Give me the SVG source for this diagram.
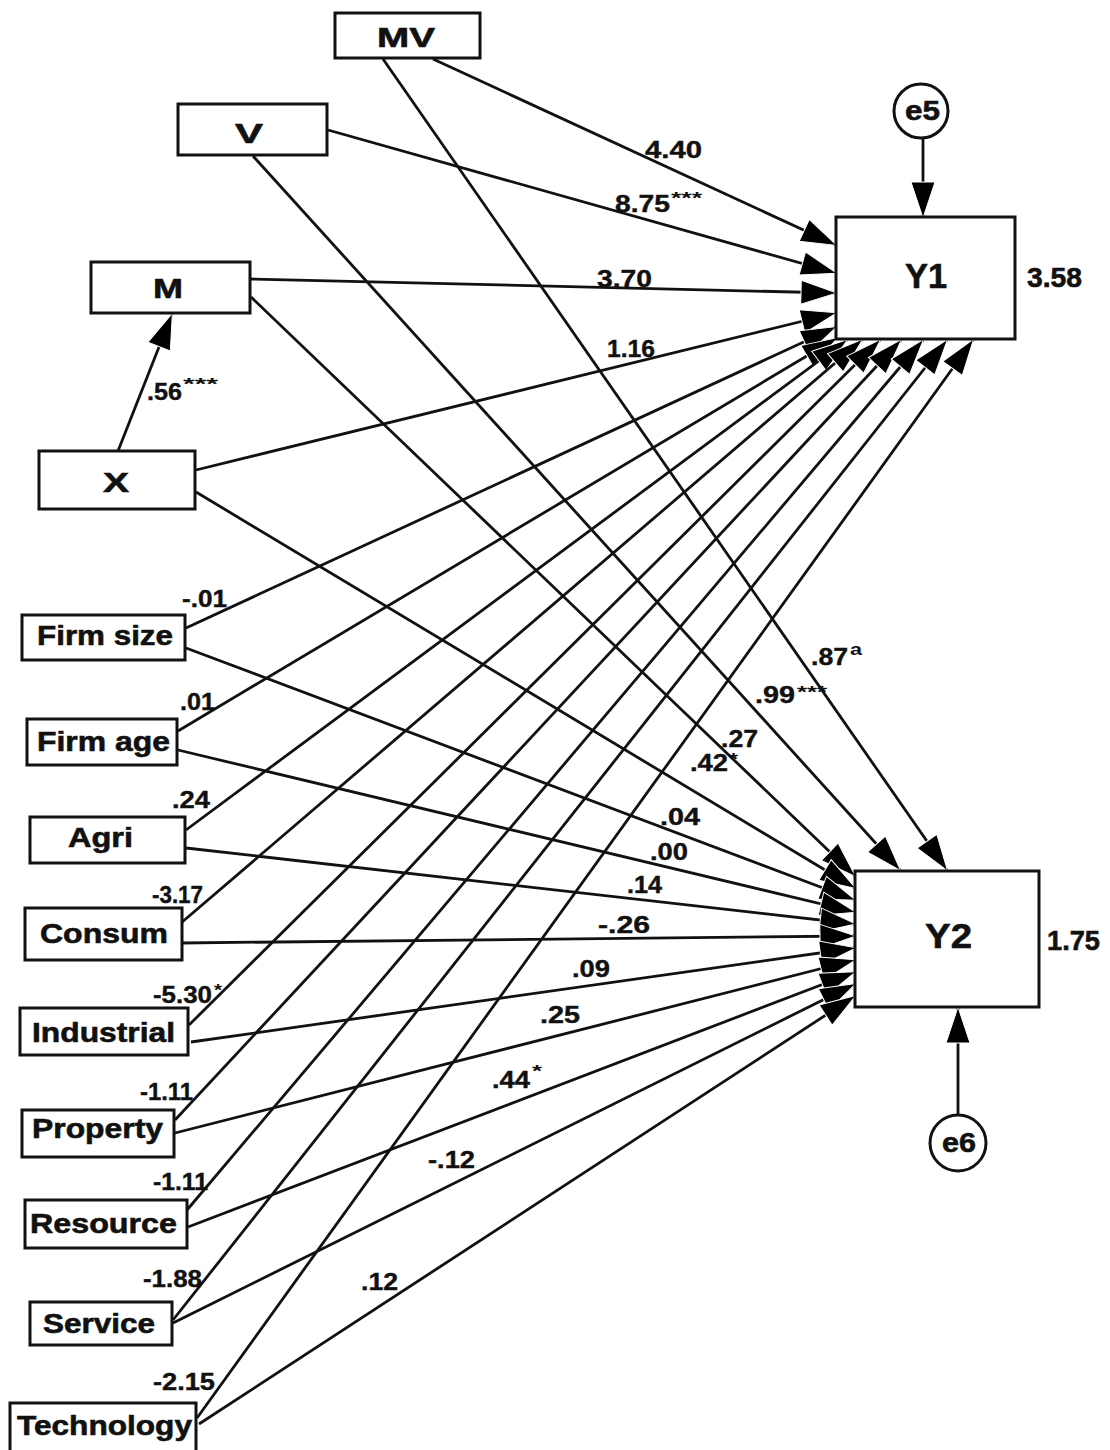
<svg xmlns="http://www.w3.org/2000/svg" width="1110" height="1450" viewBox="0 0 1110 1450">
  <style>
    .box { fill: #fff; stroke: #111; stroke-width: 3; }
    .err { fill: #fff; stroke: #111; stroke-width: 3; }
    .lbl { font-family: "Liberation Sans", Arial, sans-serif; font-weight: bold; font-size: 28px; fill: #111; stroke: #111; stroke-width: 0.6; }
    .big { font-size: 35px; }
    .coef { font-family: "Liberation Sans", Arial, sans-serif; font-weight: bold; font-size: 24px; fill: #111; stroke: #111; stroke-width: 0.4; }
    .sup { font-family: "Liberation Sans", Arial, sans-serif; font-weight: bold; font-size: 16px; fill: #111; }
    .link { fill: none; stroke: #111; stroke-width: 2.8; marker-end: url(#ah); }
  </style>
  <defs>
    <marker id="ah" markerUnits="userSpaceOnUse" viewBox="-2 -2 40 28" markerWidth="40" markerHeight="28" refX="35" refY="12" orient="auto">
      <path d="M0,0 L36,12 L0,24 Z" fill="#000" stroke="#fff" stroke-width="1"/>
    </marker>
  </defs>

  <!-- paths -->
  <g id="connectors">
    <!-- to Y1 -->
    <line class="link" x1="433" y1="59" x2="836" y2="245"/>
    <line class="link" x1="328" y1="130" x2="836" y2="273"/>
    <line class="link" x1="251" y1="279" x2="836" y2="293"/>
    <line class="link" x1="196" y1="470" x2="836" y2="313"/>
    <line class="link" x1="186" y1="628" x2="836" y2="327"/>
    <line class="link" x1="178" y1="731" x2="837" y2="338"/>
    <line class="link" x1="186" y1="830" x2="847" y2="340"/>
    <line class="link" x1="181" y1="923" x2="862" y2="340"/>
    <line class="link" x1="189" y1="1025" x2="880" y2="340"/>
    <line class="link" x1="175" y1="1120" x2="901" y2="340"/>
    <line class="link" x1="187" y1="1210" x2="923" y2="340"/>
    <line class="link" x1="173" y1="1320" x2="947" y2="340"/>
    <line class="link" x1="197" y1="1418" x2="973" y2="340"/>
    <!-- to Y2 -->
    <line class="link" x1="383" y1="59" x2="947" y2="870"/>
    <line class="link" x1="253" y1="156" x2="900" y2="870"/>
    <line class="link" x1="251" y1="297" x2="855" y2="876"/>
    <line class="link" x1="196" y1="492" x2="855" y2="888"/>
    <line class="link" x1="186" y1="648" x2="855" y2="900"/>
    <line class="link" x1="178" y1="750" x2="855" y2="912"/>
    <line class="link" x1="186" y1="848" x2="855" y2="924"/>
    <line class="link" x1="181" y1="943" x2="855" y2="936"/>
    <line class="link" x1="191" y1="1042" x2="855" y2="948"/>
    <line class="link" x1="175" y1="1133" x2="855" y2="960"/>
    <line class="link" x1="188" y1="1227" x2="855" y2="972"/>
    <line class="link" x1="173" y1="1323" x2="855" y2="984"/>
    <line class="link" x1="199" y1="1424" x2="855" y2="996"/>
    <!-- X to M, residuals -->
    <line class="link" x1="118" y1="451" x2="172" y2="314"/>
    <line class="link" x1="923" y1="138" x2="923" y2="217"/>
    <line class="link" x1="958" y1="1115" x2="958" y2="1008"/>
  </g>

  <!-- path coefficients -->
  <g id="coefficients">
    <text class="coef" x="645" y="158" textLength="57" lengthAdjust="spacingAndGlyphs">4.40</text>
    <text class="coef" x="615" y="212" textLength="55" lengthAdjust="spacingAndGlyphs">8.75</text>
    <text class="sup" x="671" y="204" textLength="31" lengthAdjust="spacingAndGlyphs">***</text>
    <text class="coef" x="597" y="287" textLength="55" lengthAdjust="spacingAndGlyphs">3.70</text>
    <text class="coef" x="607" y="357" textLength="48" lengthAdjust="spacingAndGlyphs">1.16</text>
    <text class="coef" x="147" y="400" textLength="35" lengthAdjust="spacingAndGlyphs">.56</text>
    <text class="sup" x="183" y="390" textLength="35" lengthAdjust="spacingAndGlyphs">***</text>
    <text class="coef" x="182" y="607" textLength="45" lengthAdjust="spacingAndGlyphs">-.01</text>
    <text class="coef" x="180" y="710" textLength="35" lengthAdjust="spacingAndGlyphs">.01</text>
    <text class="coef" x="172" y="808" textLength="38" lengthAdjust="spacingAndGlyphs">.24</text>
    <text class="coef" x="152" y="903" textLength="51" lengthAdjust="spacingAndGlyphs">-3.17</text>
    <text class="coef" x="153" y="1003" textLength="59" lengthAdjust="spacingAndGlyphs">-5.30</text>
    <text class="sup" x="214" y="996" textLength="8" lengthAdjust="spacingAndGlyphs">*</text>
    <text class="coef" x="140" y="1100" textLength="53" lengthAdjust="spacingAndGlyphs">-1.11</text>
    <text class="coef" x="153" y="1190" textLength="55" lengthAdjust="spacingAndGlyphs">-1.11</text>
    <text class="coef" x="143" y="1287" textLength="59" lengthAdjust="spacingAndGlyphs">-1.88</text>
    <text class="coef" x="153" y="1390" textLength="62" lengthAdjust="spacingAndGlyphs">-2.15</text>

    <text class="coef" x="811" y="665" textLength="37" lengthAdjust="spacingAndGlyphs">.87</text>
    <text class="sup" x="850" y="655" font-size="14" textLength="12" lengthAdjust="spacingAndGlyphs">a</text>
    <text class="coef" x="755" y="703" textLength="40" lengthAdjust="spacingAndGlyphs">.99</text>
    <text class="sup" x="797" y="698" textLength="30" lengthAdjust="spacingAndGlyphs">***</text>
    <text class="coef" x="721" y="747" textLength="37" lengthAdjust="spacingAndGlyphs">.27</text>
    <text class="coef" x="690" y="771" textLength="38" lengthAdjust="spacingAndGlyphs">.42</text>
    <text class="sup" x="729" y="765" textLength="9" lengthAdjust="spacingAndGlyphs">*</text>
    <text class="coef" x="660" y="825" textLength="40" lengthAdjust="spacingAndGlyphs">.04</text>
    <text class="coef" x="650" y="860" textLength="38" lengthAdjust="spacingAndGlyphs">.00</text>
    <text class="coef" x="627" y="893" textLength="35" lengthAdjust="spacingAndGlyphs">.14</text>
    <text class="coef" x="598" y="933" textLength="52" lengthAdjust="spacingAndGlyphs">-.26</text>
    <text class="coef" x="572" y="977" textLength="38" lengthAdjust="spacingAndGlyphs">.09</text>
    <text class="coef" x="540" y="1023" textLength="40" lengthAdjust="spacingAndGlyphs">.25</text>
    <text class="coef" x="492" y="1088" textLength="38" lengthAdjust="spacingAndGlyphs">.44</text>
    <text class="sup" x="532" y="1077" textLength="10" lengthAdjust="spacingAndGlyphs">*</text>
    <text class="coef" x="428" y="1168" textLength="47" lengthAdjust="spacingAndGlyphs">-.12</text>
    <text class="coef" x="361" y="1290" textLength="37" lengthAdjust="spacingAndGlyphs">.12</text>
  </g>

  <!-- observed variables -->
  <g id="node-MV"><rect class="box" x="335" y="13" width="145" height="45"/><text class="lbl" x="377" y="47" font-size="31" textLength="58" lengthAdjust="spacingAndGlyphs">MV</text></g>
  <g id="node-V"><rect class="box" x="178" y="104" width="149" height="51"/><text class="lbl" x="235" y="143" font-size="31" textLength="28" lengthAdjust="spacingAndGlyphs">V</text></g>
  <g id="node-M"><rect class="box" x="91" y="262" width="159" height="51"/><text class="lbl" x="153" y="298" font-size="30" textLength="30" lengthAdjust="spacingAndGlyphs">M</text></g>
  <g id="node-X"><rect class="box" x="39" y="451" width="156" height="58"/><text class="lbl" x="103" y="492" font-size="34" textLength="26" lengthAdjust="spacingAndGlyphs">X</text></g>

  <g id="node-Y1"><rect class="box" x="836" y="217" width="179" height="122"/><text class="lbl big" x="905" y="288" textLength="42" lengthAdjust="spacingAndGlyphs">Y1</text><text class="lbl" x="1027" y="287" font-size="26" textLength="55" lengthAdjust="spacingAndGlyphs">3.58</text></g>
  <g id="node-Y2"><rect class="box" x="855" y="871" width="184" height="136"/><text class="lbl big" x="925" y="948" font-size="36" textLength="47" lengthAdjust="spacingAndGlyphs">Y2</text><text class="lbl" x="1047" y="950" font-size="25" textLength="53" lengthAdjust="spacingAndGlyphs">1.75</text></g>

  <g id="node-e5"><circle class="err" cx="921" cy="111" r="27"/><text class="lbl" x="905" y="120" font-size="24" textLength="35" lengthAdjust="spacingAndGlyphs">e5</text></g>
  <g id="node-e6"><circle class="err" cx="958" cy="1143" r="28"/><text class="lbl" x="942" y="1152" font-size="24" textLength="34" lengthAdjust="spacingAndGlyphs">e6</text></g>

  <!-- control variables -->
  <g id="node-firmsize"><rect class="box" x="22" y="615" width="163" height="45"/><text class="lbl" x="37" y="645" textLength="136" lengthAdjust="spacingAndGlyphs">Firm size</text></g>
  <g id="node-firmage"><rect class="box" x="27" y="719" width="150" height="46"/><text class="lbl" x="37" y="751" textLength="133" lengthAdjust="spacingAndGlyphs">Firm age</text></g>
  <g id="node-agri"><rect class="box" x="30" y="817" width="155" height="46"/><text class="lbl" x="68" y="847" textLength="65" lengthAdjust="spacingAndGlyphs">Agri</text></g>
  <g id="node-consum"><rect class="box" x="25" y="908" width="157" height="52"/><text class="lbl" x="40" y="943" textLength="128" lengthAdjust="spacingAndGlyphs">Consum</text></g>
  <g id="node-industrial"><rect class="box" x="20" y="1008" width="168" height="47"/><text class="lbl" x="32" y="1042" textLength="143" lengthAdjust="spacingAndGlyphs">Industrial</text></g>
  <g id="node-property"><rect class="box" x="22" y="1110" width="152" height="47"/><text class="lbl" x="32" y="1138" textLength="131" lengthAdjust="spacingAndGlyphs">Property</text></g>
  <g id="node-resource"><rect class="box" x="25" y="1200" width="162" height="48"/><text class="lbl" x="30" y="1233" textLength="147" lengthAdjust="spacingAndGlyphs">Resource</text></g>
  <g id="node-service"><rect class="box" x="30" y="1302" width="142" height="43"/><text class="lbl" x="43" y="1333" textLength="112" lengthAdjust="spacingAndGlyphs">Service</text></g>
  <g id="node-technology"><rect class="box" x="10" y="1403" width="186" height="52"/><text class="lbl" x="17" y="1435" textLength="175" lengthAdjust="spacingAndGlyphs">Technology</text></g>
</svg>
